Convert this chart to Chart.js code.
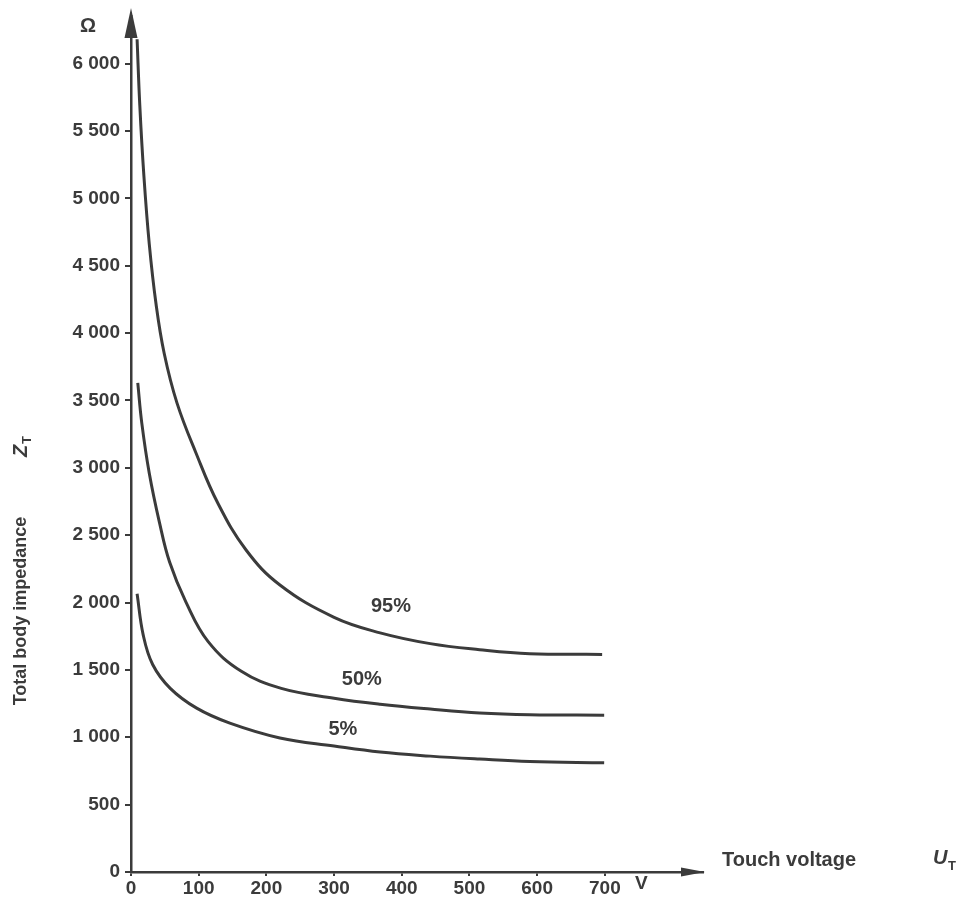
<!DOCTYPE html>
<html>
<head>
<meta charset="utf-8">
<script src="https://cdn.jsdelivr.net/npm/chart.js@4/dist/chart.umd.min.js"></script>
<style>
  html, body { margin: 0; padding: 0; background: #fff; }
  #wrap { width: 962px; height: 904px; }
</style>
</head>
<body>
<div id="wrap"><canvas id="zChart" width="962" height="904"></canvas></div>
<script>
// touch voltage (V) and total body impedance (Ω)
const volts95 = [9, 13, 19, 27, 37, 49, 68, 96, 128, 170, 220, 300, 368, 442, 515, 589, 696];
const ohms95  = [6180, 5690, 5170, 4660, 4215, 3850, 3480, 3110, 2740, 2390, 2130, 1890, 1775, 1695, 1650, 1620, 1615];

const volts50 = [10, 16, 27, 42, 57, 81, 114, 163, 222, 300, 368, 442, 515, 589, 699];
const ohms50  = [3630, 3330, 2960, 2595, 2300, 2005, 1710, 1490, 1363, 1290, 1245, 1209, 1180, 1167, 1164];

const volts5 = [9, 18, 32, 58, 97, 146, 220, 300, 368, 442, 515, 589, 699];
const ohms5  = [2065, 1760, 1540, 1363, 1216, 1105, 995, 935, 890, 860, 838, 820, 810];

const xTicks = [0, 100, 200, 300, 400, 500, 600, 700];
const yTicks = [0, 500, 1000, 1500, 2000, 2500, 3000, 3500, 4000, 4500, 5000, 5500, 6000];

const curveLabels = ['95%', '50%', '5%'];
const labelVolts  = [384, 341, 313];
const labelOhms   = [1968, 1430, 1054];

const INK = '#3b3b3b';
const FONT = '"Liberation Sans", Arial, sans-serif';

function pts(xs, ys) { return xs.map((x, i) => ({ x, y: ys[i] })); }

function curve(data) {
    return {
        data,
        showLine: true,
        borderColor: INK,
        borderWidth: 3,
        pointRadius: 0,
        tension: 0.4,
        fill: false,
    };
}

// arrows, axis names and curve labels
const annotate = {
    id: 'annotate',
    afterDraw(chart) {
        const { ctx, chartArea: a, scales: { x, y } } = chart;
        ctx.save();
        ctx.fillStyle = INK;

        // y arrow
        ctx.beginPath();
        ctx.moveTo(a.left, 8);
        ctx.lineTo(a.left - 6.5, 38);
        ctx.lineTo(a.left + 6.5, 38);
        ctx.closePath();
        ctx.fill();

        // x arrow
        ctx.beginPath();
        ctx.moveTo(a.right + 2, a.bottom);
        ctx.lineTo(a.right - 22, a.bottom - 4.5);
        ctx.lineTo(a.right - 22, a.bottom + 4.5);
        ctx.closePath();
        ctx.fill();

        ctx.textBaseline = 'middle';
        ctx.textAlign = 'center';
        ctx.font = 'bold 20px ' + FONT;
        ctx.fillText('Ω', 88, 26);

        // y title, rotated
        ctx.save();
        ctx.translate(21, 611);
        ctx.rotate(-Math.PI / 2);
        ctx.font = 'bold 18px ' + FONT;
        ctx.fillText('Total body impedance', 0, 0);
        ctx.font = 'italic bold 20px ' + FONT;
        ctx.fillText('Z', 160, 0);
        ctx.font = 'bold 13px ' + FONT;
        ctx.fillText('T', 171, 6);
        ctx.restore();

        // x title
        ctx.textAlign = 'left';
        ctx.font = 'bold 20px ' + FONT;
        ctx.fillText('Touch voltage', 722, 860);
        ctx.font = 'italic bold 20px ' + FONT;
        ctx.fillText('U', 933, 858);
        ctx.font = 'bold 13px ' + FONT;
        ctx.fillText('T', 948, 866);
        ctx.font = 'bold 19px ' + FONT;
        ctx.fillText('V', 635, 884);

        // curve labels
        ctx.textAlign = 'center';
        ctx.font = 'bold 20px ' + FONT;
        curveLabels.forEach((t, i) => {
            ctx.fillText(t, x.getPixelForValue(labelVolts[i]), y.getPixelForValue(labelOhms[i]));
        });
        ctx.restore();
    }
};

new Chart(document.getElementById('zChart'), {
    type: 'scatter',
    data: {
        datasets: [curve(pts(volts95, ohms95)), curve(pts(volts50, ohms50)), curve(pts(volts5, ohms5))]
    },
    options: {
        responsive: false,
        animation: false,
        layout: { padding: { top: 10, right: 259, left: 0, bottom: 0 } },
        plugins: { legend: { display: false }, tooltip: { enabled: false } },
        scales: {
            x: {
                type: 'linear',
                min: 0,
                max: 845,
                afterBuildTicks: s => { s.ticks = xTicks.map(v => ({ value: v })); },
                afterFit: s => { s.height = 32; },
                border: { display: true, color: INK, width: 2.5 },
                grid: { drawOnChartArea: false, drawTicks: true, tickLength: 4, color: INK, lineWidth: 2 },
                ticks: {
                    color: INK,
                    padding: 1,
                    maxRotation: 0,
                    autoSkip: false,
                    font: { family: FONT, size: 19, weight: 'bold' },
                    callback: v => String(v)
                }
            },
            y: {
                type: 'linear',
                min: 0,
                max: 6350,
                afterBuildTicks: s => { s.ticks = yTicks.map(v => ({ value: v })); },
                afterFit: s => { s.width = 131; },
                border: { display: true, color: INK, width: 2.5 },
                grid: { drawOnChartArea: false, drawTicks: true, tickLength: 6, color: INK, lineWidth: 2 },
                ticks: {
                    color: INK,
                    padding: 5,
                    autoSkip: false,
                    font: { family: FONT, size: 19, weight: 'bold' },
                    callback: v => v >= 1000 ? Math.floor(v / 1000) + ' ' + String(v % 1000).padStart(3, '0') : String(v)
                }
            }
        }
    },
    plugins: [annotate]
});
</script>
</body>
</html>
